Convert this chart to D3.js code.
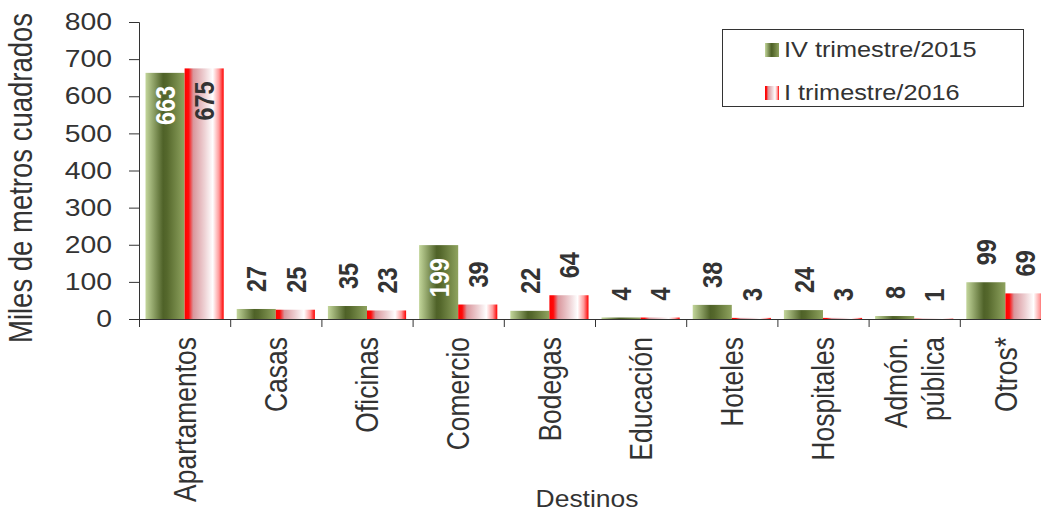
<!DOCTYPE html>
<html>
<head>
<meta charset="utf-8">
<script src="https://cdn.jsdelivr.net/npm/d3@7"></script>
<style>
  body { margin: 0; background: #fff; }
  svg { display: block; font-family: "Liberation Sans", Arial, sans-serif; }
</style>
</head>
<body>
<div id="chart"></div>
<script>
// Data
const categories = ["Apartamentos", "Casas", "Oficinas", "Comercio", "Bodegas", "Educación", "Hoteles", "Hospitales", "Admón.\npública", "Otros*"];
const seriesNames = ["IV trimestre/2015", "I trimestre/2016"];
const values2015 = [663, 27, 35, 199, 22, 4, 38, 24, 8, 99];
const values2016 = [675, 25, 23, 39, 64, 4, 3, 3, 1, 69];
const yTicks = [0, 100, 200, 300, 400, 500, 600, 700, 800];

const W = 1041, H = 516;
const plot = { left: 139, right: 1051, top: 22, bottom: 319 };
const sx = 1.18; // text is drawn a little wide, like the source image
const ink = "#333";

const svg = d3.select("#chart").append("svg")
  .attr("width", W).attr("height", H);

// Gradients
const defs = svg.append("defs");
const gGreen = defs.append("linearGradient").attr("id", "gGreen")
  .attr("x1", "0%").attr("x2", "100%").attr("y1", "0%").attr("y2", "0%");
[[0, "#c3d69b"], [0.45, "#4f6228"], [0.55, "#55682c"], [1, "#8fa35f"]]
  .forEach(([o, c]) => gGreen.append("stop").attr("offset", o).attr("stop-color", c));
const gRed = defs.append("linearGradient").attr("id", "gRed")
  .attr("x1", "0%").attr("x2", "100%").attr("y1", "0%").attr("y2", "0%");
[[0, "#ff0000"], [0.1, "#ff0a0a"], [0.22, "#d9969c"], [0.5, "#edcfd2"], [0.72, "#ffffff"], [0.88, "#ff9a9a"], [1, "#ff0000"]]
  .forEach(([o, c]) => gRed.append("stop").attr("offset", o).attr("stop-color", c));
const fills = ["url(#gGreen)", "url(#gRed)"];

// Scales
const x = d3.scaleBand().domain(categories).range([plot.left, plot.right]).padding(0);
const step = x.step();
const x1 = d3.scaleBand().domain(seriesNames).range([6.5, step - 6.5]).padding(0);
const y = d3.scaleLinear().domain([0, 800]).range([plot.bottom, plot.top]);

const rows = categories.map((c, i) => ({ cat: c, vals: [values2015[i], values2016[i]] }));

// Bars
const groups = svg.append("g").selectAll("g").data(rows).join("g")
  .attr("transform", d => `translate(${x(d.cat)},0)`);

groups.selectAll("rect").data(d => d.vals.map((v, k) => ({ v, k })))
  .join("rect")
  .attr("x", d => x1(seriesNames[d.k]))
  .attr("y", d => y(d.v))
  .attr("width", x1.bandwidth())
  .attr("height", d => y(0) - y(d.v))
  .attr("fill", d => fills[d.k]);

// Value labels
groups.selectAll("text").data(d => d.vals.map((v, k) => ({ v, k })))
  .join("text")
  .attr("transform", d => {
    const cx = x1(seriesNames[d.k]) + x1.bandwidth() / 2;
    const inside = d.v > 150;
    const ty = inside ? y(d.v) + 13 : y(d.v) - 17;
    return `translate(${cx},${ty}) scale(1.2,1) rotate(-90)`;
  })
  .attr("text-anchor", d => d.v > 150 ? "end" : "start")
  .attr("dy", "0.36em")
  .attr("font-size", 23.5)
  .attr("font-weight", "bold")
  .attr("fill", d => (d.v > 150 && d.k === 0) ? "#fff" : ink)
  .text(d => d.v);

// Y axis
const yAxis = svg.append("g")
  .attr("transform", `translate(${plot.left},0)`)
  .call(d3.axisLeft(y).tickValues(yTicks).tickSize(10).tickPadding(17));
yAxis.select(".domain").attr("stroke", ink);
yAxis.selectAll(".tick line").attr("stroke", ink);
yAxis.selectAll(".tick text")
  .attr("font-size", 24).attr("fill", ink)
  .attr("font-family", "Liberation Sans, Arial, sans-serif")
  .each(function () {
    const t = d3.select(this);
    const tx = +t.attr("x");
    t.attr("x", 0).attr("transform", `translate(${tx},0) scale(${sx},1)`);
  });

// X axis: boundary ticks
const xb = d3.scaleLinear().domain([0, categories.length]).range([plot.left, plot.right]);
const xAxis = svg.append("g")
  .attr("transform", `translate(0,${plot.bottom})`)
  .call(d3.axisBottom(xb).tickValues(d3.range(categories.length + 1)).tickSize(8).tickFormat(""));
xAxis.select(".domain").attr("stroke", ink);
xAxis.selectAll(".tick line").attr("stroke", ink);

// Category labels
const catFont = 26.5;
svg.append("g").selectAll("text").data(categories).join("text")
  .attr("transform", d => {
    const lines = d.split("\n").length;
    const cx = x(d) + step / 2 - (lines - 1) * 0.6 * catFont * sx;
    return `translate(${cx},337) scale(${sx},1) rotate(-90)`;
  })
  .attr("text-anchor", "end")
  .attr("font-size", catFont)
  .attr("fill", ink)
  .each(function (d) {
    const t = d3.select(this);
    d.split("\n").forEach((line, i) => {
      t.append("tspan").attr("x", 0).attr("dy", i === 0 ? "0.36em" : "1.2em").text(line);
    });
  });

// Axis titles
svg.append("text")
  .attr("transform", `translate(20,178) scale(${sx},1) rotate(-90)`)
  .attr("text-anchor", "middle").attr("dy", "0.36em")
  .attr("font-size", 27.5).attr("fill", ink)
  .text("Miles de metros cuadrados");

svg.append("text")
  .attr("transform", `translate(587,507) scale(1.15,1)`)
  .attr("text-anchor", "middle")
  .attr("font-size", 23).attr("fill", ink)
  .text("Destinos");

// Legend
const legend = svg.append("g");
legend.append("rect")
  .attr("x", 722.5).attr("y", 29.5).attr("width", 301).attr("height", 77)
  .attr("fill", "#fff").attr("stroke", ink).attr("stroke-width", 1);
seriesNames.forEach((name, i) => {
  const by = 57 + i * 43;
  legend.append("rect")
    .attr("x", 765).attr("y", by - 14).attr("width", 14).attr("height", 14)
    .attr("fill", fills[i]);
  legend.append("text")
    .attr("transform", `translate(784,${by}) scale(1.15,1)`)
    .attr("font-size", 22).attr("fill", ink)
    .text(name);
});
</script>
</body>
</html>
